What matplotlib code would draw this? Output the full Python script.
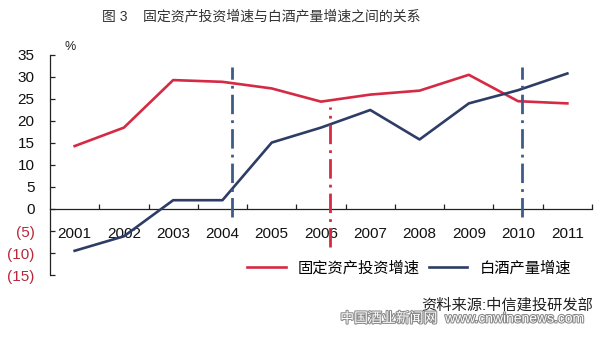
import matplotlib
matplotlib.use("Agg")
import matplotlib.pyplot as plt
import matplotlib.patheffects as pe
from matplotlib.ticker import FixedLocator, FuncFormatter

plt.rcParams['font.family'] = ['Liberation Sans', 'Noto Sans CJK SC']
plt.rcParams['axes.unicode_minus'] = False

years = [2001, 2002, 2003, 2004, 2005, 2006, 2007, 2008, 2009, 2010, 2011]
fai_growth = [14.3, 18.5, 29.3, 28.9, 27.4, 24.4, 26.0, 26.9, 30.5, 24.5, 24.0]
baijiu_growth = [-9.5, -6.2, 2.0, 2.0, 15.1, 18.5, 22.5, 15.8, 24.0, 27.0, 30.8]

# turning points marked with vertical dash-dot lines: (x, y_bottom, y_top, colour)
marks = [(2004.2, -1.8, 32.3, '#3d5b86'),
         (2006.18, -8.6, 23.2, '#d42a44'),
         (2010.07, -1.8, 32.3, '#3d5b86')]

red = '#d42a44'
navy = '#2e3d66'

fig = plt.figure(figsize=(6, 3.37), dpi=100)
ax = fig.add_axes([50 / 600, 62 / 337, 542 / 600, 220 / 337])

ax.plot(years, fai_growth, color=red, lw=1.9, label='固定资产投资增速', zorder=3)
ax.plot(years, baijiu_growth, color=navy, lw=1.9, label='白酒产量增速', zorder=3)
for x, y0, y1, c in marks:
    ax.plot([x, x], [y0, y1], color=c, lw=2, ls=(0, (7, 2.2, 1, 2.2)), zorder=4)

ax.set_xlim(2000.5, 2011.5)
ax.set_ylim(-15, 35)

for s in ['top', 'right']:
    ax.spines[s].set_visible(False)
ax.spines['bottom'].set_position(('data', 0))
ax.spines['left'].set_color('#222222')
ax.spines['bottom'].set_color('#222222')
ax.spines['left'].set_linewidth(0.9)
ax.spines['bottom'].set_linewidth(0.9)

ax.xaxis.set_major_locator(FixedLocator(years))
ax.xaxis.set_minor_locator(FixedLocator([y + 0.5 for y in years]))
ax.tick_params(axis='x', which='major', length=0, pad=13, labelsize=11, labelcolor='#111111')
ax.tick_params(axis='x', which='minor', direction='in', length=3.5, width=0.9, color='#222222')

yt = list(range(-15, 36, 5))
ax.yaxis.set_major_locator(FixedLocator(yt))
ax.yaxis.set_major_formatter(FuncFormatter(lambda v, p: f'({abs(int(v))})' if v < 0 else f'{int(v)}'))
ax.tick_params(axis='y', direction='in', length=3.5, width=0.9, color='#222222', pad=11,
               labelsize=11, labelcolor='#111111')
for lab, v in zip(ax.get_yticklabels(), yt):
    if v < 0:
        lab.set_color('#b8283a')

ax.text(2000.8, 35.5, '%', fontsize=9, color='#222222', va='bottom')

fig.text(0.435, 0.95, '图 3    固定资产投资增速与白酒产量增速之间的关系', fontsize=10,
         ha='center', va='center', color='#333333')

fig.legend(loc='center', bbox_to_anchor=(0.682, 0.205), ncol=2, frameon=False, fontsize=11,
           handlelength=2.5, handletextpad=0.8, columnspacing=0.6)

fig.text(0.988, 0.095, '资料来源:中信建投研发部', fontsize=11, ha='right', va='center', color='#222222')
fig.text(0.567, 0.055, '中国酒业新闻网  www.cnwinenews.com', fontsize=10, ha='left', va='center',
         color='white', path_effects=[pe.withStroke(linewidth=1.5, foreground='#888888')])

fig.savefig('out.png', dpi=100)
